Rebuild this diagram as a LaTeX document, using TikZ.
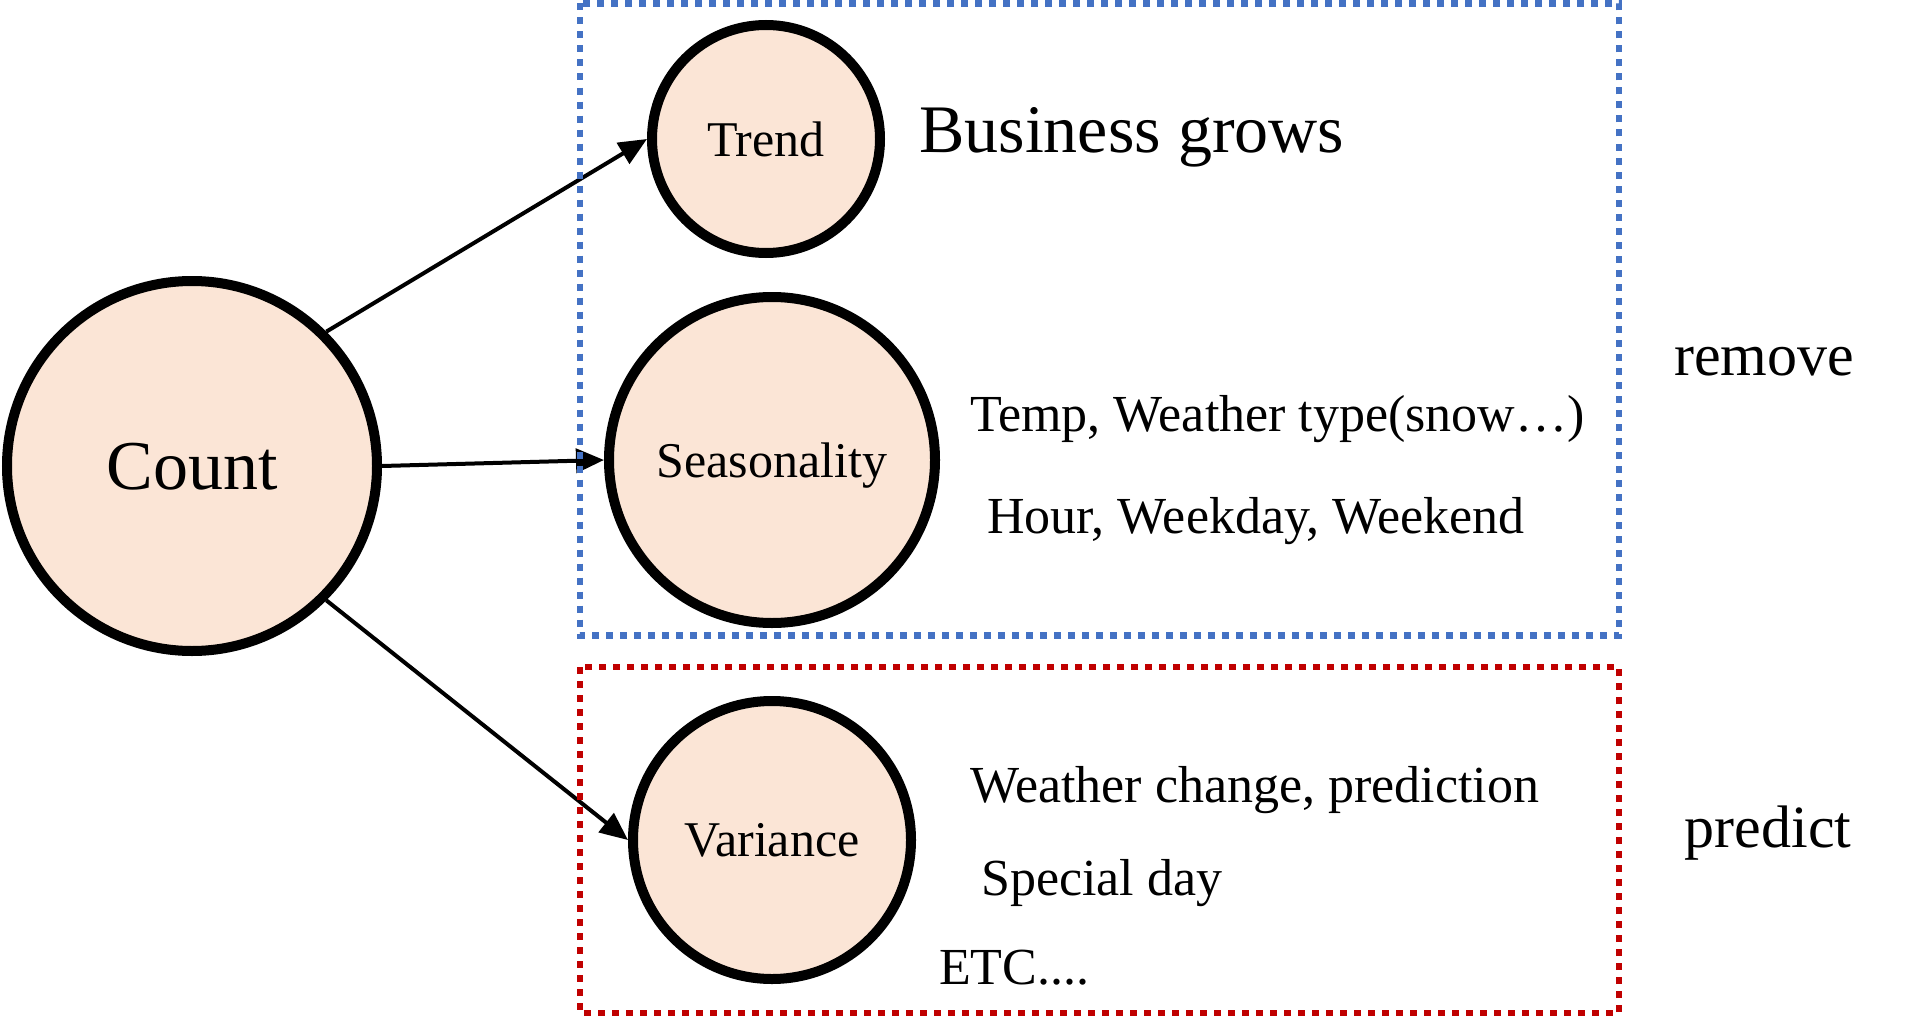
\documentclass[tikz,border=0pt]{standalone}
\usepackage{fontspec}
\setmainfont{Liberation Serif}
\usepackage{tikz}
\usetikzlibrary{arrows.meta}
\definecolor{peach}{HTML}{FBE5D6}
\definecolor{boxblue}{HTML}{4472C4}
\definecolor{boxred}{HTML}{C00000}

\begin{document}
\begin{tikzpicture}[x=1pt,y=-1pt,
    part/.style={circle,draw,line width=10pt,fill=peach,inner sep=0pt,text depth=0pt,font=\fontsize{50}{60}\selectfont},
    note/.style={anchor=base west,inner sep=0pt,font=\fontsize{52}{62}\selectfont},
    side/.style={anchor=base,inner sep=0pt,font=\fontsize{60}{72}\selectfont},
    link/.style={line width=4pt,-{Triangle[length=28pt,width=24pt]}},
    dotbox/.style={line width=6.5pt,dash pattern=on 7pt off 7pt}]
    \useasboundingbox (0,0) rectangle (1909,1025);
    \node [part,minimum size=370pt,font=\fontsize{70}{84}\selectfont] (count) at (192,466) {Count};
    \node [part,minimum size=228pt] (trend) at (766,139) {Trend};
    \node [part,minimum size=326pt] (season) at (772,460) {Seasonality};
    \node [part,minimum size=278pt] (variance) at (772,840) {Variance};
    \node [note,font=\fontsize{68}{80}\selectfont] (grows) at (919,152) {Business grows};
    \node [note] (temp) at (970,431) {Temp, Weather type(snow…)};
    \node [note] (hour) at (987,533) {Hour, Weekday, Weekend};
    \node [note] (change) at (970,802) {Weather change, prediction};
    \node [note] (special) at (981,895) {Special day};
    \node [note] (etc) at (939,984) {ETC....};
    \node [side] (remove) at (1764,375) {remove};
    \node [side] (predict) at (1768,847) {predict};
    \draw[link] (count.45) -- (trend.west);
    \draw[link] (count.east) -- (season.west);
    \draw[link] (count.-45) -- (variance.west);
    \draw[dotbox,boxblue] (580,3.5) rectangle (1619,635.5);
    \draw[dotbox,boxred] (580,667) rectangle (1619,1013);
\end{tikzpicture}
\end{document}
